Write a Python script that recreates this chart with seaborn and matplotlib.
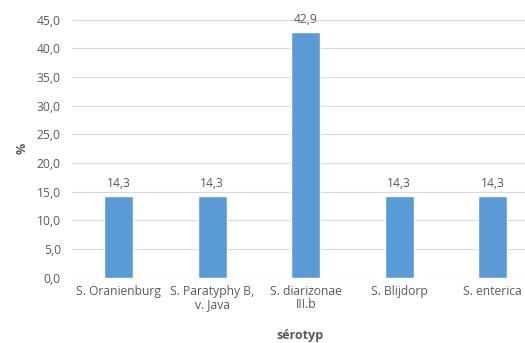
import matplotlib
matplotlib.use("Agg")
import matplotlib.pyplot as plt
import matplotlib.ticker as mticker
import seaborn as sns
import pandas as pd

categories = ["S. Oranienburg", "S. Paratyphy B,\nv. Java", "S. diarizonae\nIII.b",
              "S. Blijdorp", "S. enterica"]
values = [14.3, 14.3, 42.9, 14.3, 14.3]
y_ticks = [0, 5, 10, 15, 20, 25, 30, 35, 40, 45]

sns.set_theme(style="white")
plt.rcParams["font.family"] = ["Open Sans", "DejaVu Sans"]

text_color = "#595959"
bar_color = "#5B9BD5"

df = pd.DataFrame({"serotyp": categories, "pct": values})

fig = plt.figure(figsize=(5.25, 3.43), dpi=100)
ax = fig.add_axes([72 / 525, 65.3 / 343, 467.5 / 525, 258 / 343])

sns.barplot(data=df, x="serotyp", y="pct", color=bar_color, width=0.31,
            saturation=1, ax=ax, zorder=3)

ax.set_ylim(0, 45)
ax.set_yticks(y_ticks)
ax.yaxis.set_major_formatter(mticker.FuncFormatter(lambda v, p: f"{v:.1f}".replace(".", ",")))
ax.grid(axis="y", color="#D9D9D9", linewidth=0.8, zorder=0)
ax.set_axisbelow(True)
for s in ax.spines.values():
    s.set_visible(False)
ax.tick_params(axis="both", length=0, labelsize=8.7, colors=text_color)
ax.tick_params(axis="y", pad=8)
ax.tick_params(axis="x", pad=5)
for lbl in ax.get_xticklabels():
    lbl.set_linespacing(1.05)

for cont in ax.containers:
    ax.bar_label(cont, labels=[f"{v:.1f}".replace(".", ",") for v in values],
                 padding=4, fontsize=8.7, color=text_color)

ax.set_ylabel("%", fontsize=9, color=text_color, fontweight="bold", labelpad=6)
ax.set_xlabel("")
fig.text(300 / 525, 1 - 336 / 343, "sérotyp", ha="center", va="center",
         fontsize=9, fontweight="bold", color=text_color)

fig.savefig("out.png", dpi=100)
